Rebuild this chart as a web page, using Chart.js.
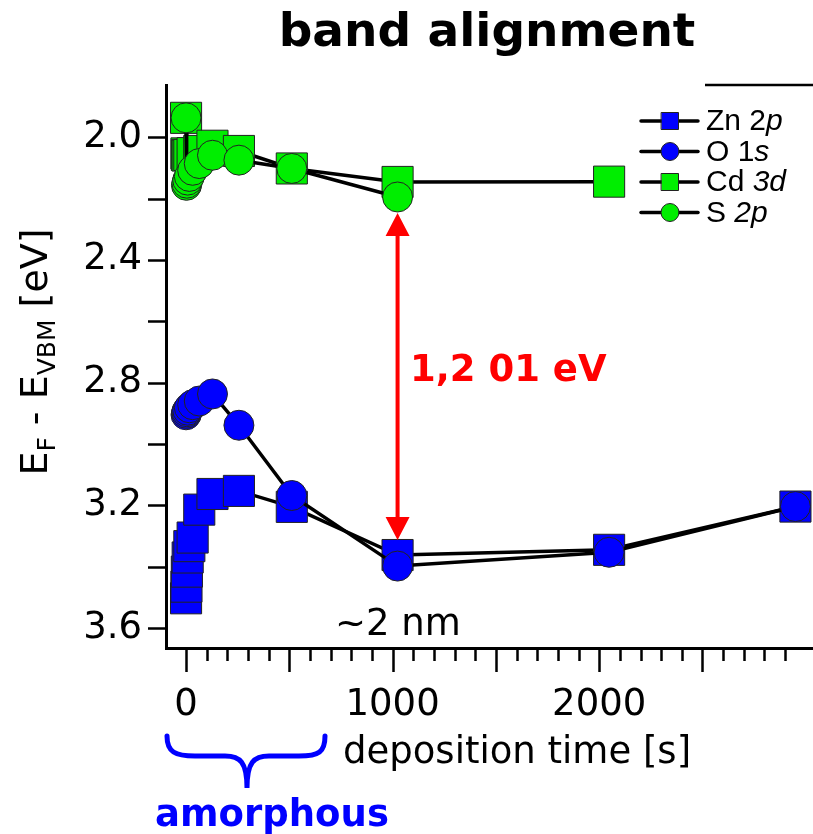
<!DOCTYPE html>
<html>
<head>
<meta charset="utf-8">
<script src="https://cdn.jsdelivr.net/npm/chart.js@4/dist/chart.umd.min.js"></script>
<style>
  html, body { margin: 0; padding: 0; background: #fff; overflow: hidden; }
  #wrap { width: 813px; height: 834px; }
  canvas { display: block; }
</style>
</head>
<body>
<div id="wrap"><canvas id="myChart" width="813" height="834"></canvas></div>
<script>
// deposition times [s]
const timesZnO = [0, 2, 4, 8, 16, 32, 64, 128, 256, 512, 1024, 2048, 2950];
const timesS = [0, 2, 4, 8, 16, 32, 64, 128, 256, 512, 1024];
const timesCd = [0, 2, 4, 8, 16, 32, 64, 128, 256, 512, 1024, 2048];

// E_F - E_VBM [eV]
const zn2p = [3.503, 3.465, 3.416, 3.370, 3.333, 3.305, 3.214, 3.163, 3.153, 3.205, 3.362, 3.345, 3.204];
const o1s = [2.905, 2.900, 2.895, 2.890, 2.882, 2.872, 2.860, 2.837, 2.939, 3.168, 3.398, 3.353, 3.204];
const cd3d = [1.937, 2.053, 2.058, 2.060, 2.058, 2.052, 2.045, 2.028, 2.045, 2.102, 2.146, 2.145];
const s2p = [1.937, 2.157, 2.150, 2.140, 2.128, 2.108, 2.086, 2.059, 2.075, 2.102, 2.195];

const xTickLabels = [0, 1000, 2000];
const yTickLabels = [2.0, 2.4, 2.8, 3.2, 3.6];
const yMinorTicks = [2.2, 2.6, 3.0, 3.4];

const gapTime = 1024;
const gapLabel = '1,2 01 eV';

const BLUE = '#0000ff';
const GREEN = '#00ee00';
const RED = '#ff0000';

const SANS = '"DejaVu Sans", Verdana, sans-serif';
const ARIAL = '"Liberation Sans", Arial, sans-serif';

const makeSeries = (label, times, values, color, style, order) => ({
  label,
  data: times.map((t, i) => ({ x: t, y: values[i] })),
  borderColor: '#000',
  borderWidth: 3.5,
  pointStyle: style,
  pointRadius: style === 'rect' ? 22 : 15,
  pointHoverRadius: style === 'rect' ? 22 : 15,
  pointBackgroundColor: color,
  pointBorderColor: '#222',
  pointBorderWidth: 1,
  order,
});

const legendItems = [
  { parts: [['Zn 2', false], ['p', true]], color: BLUE, style: 'rect' },
  { parts: [['O 1', false], ['s', true]], color: BLUE, style: 'circle' },
  { parts: [['Cd ', false], ['3d', true]], color: GREEN, style: 'rect' },
  { parts: [['S ', false], ['2p', true]], color: GREEN, style: 'circle' },
];

function drawMixed(ctx, parts, x, y, size, family) {
  let cx = x;
  for (const [txt, it] of parts) {
    ctx.font = (it ? 'italic ' : '') + size + 'px ' + family;
    ctx.fillText(txt, cx, y);
    cx += ctx.measureText(txt).width;
  }
}

// keep the plot area fixed: no extra room for tick label overhang
const noPadding = (s) => {
  s.paddingLeft = 0;
  s.paddingRight = 0;
  s.paddingTop = 0;
  s.paddingBottom = 0;
};

const decor = {
  id: 'decor',
  afterDraw(chart) {
    const ctx = chart.ctx;
    const xs = chart.scales.x;
    const ys = chart.scales.y;
    const area = chart.chartArea;
    ctx.save();
    ctx.strokeStyle = '#000';
    ctx.fillStyle = '#000';

    // tick marks
    ctx.lineWidth = 2.5;
    ctx.beginPath();
    for (const v of yTickLabels.concat(yMinorTicks)) {
      const py = Math.round(ys.getPixelForValue(v)) + 0.5;
      ctx.moveTo(area.left - 18, py);
      ctx.lineTo(area.left, py);
    }
    for (let t = 0; t <= 2900; t += 100) {
      const px = Math.round(xs.getPixelForValue(t)) + 0.5;
      const len = t % 500 === 0 ? 24 : 13;
      ctx.moveTo(px, area.bottom);
      ctx.lineTo(px, area.bottom + len);
    }
    ctx.stroke();

    // frame piece at top right
    ctx.beginPath();
    ctx.moveTo(705, area.top);
    ctx.lineTo(area.right, area.top);
    ctx.stroke();

    // title
    ctx.font = 'bold 47px ' + SANS;
    ctx.textAlign = 'center';
    ctx.textBaseline = 'alphabetic';
    ctx.fillText('band alignment', 487, 46);

    // y axis title
    ctx.save();
    ctx.translate(47, 352);
    ctx.rotate(-Math.PI / 2);
    const segs = [['E', 38, 0], ['F', 25, 8], [' - E', 38, 0], ['VBM', 25, 8], [' [eV]', 38, 0]];
    let total = 0;
    for (const [s, f] of segs) { ctx.font = f + 'px ' + SANS; total += ctx.measureText(s).width; }
    let cx = -total / 2;
    ctx.textAlign = 'left';
    for (const [s, f, dy] of segs) {
      ctx.font = f + 'px ' + SANS;
      ctx.fillText(s, cx, dy);
      cx += ctx.measureText(s).width;
    }
    ctx.restore();

    // x axis title and thickness note
    ctx.textAlign = 'left';
    ctx.font = '37px ' + SANS;
    ctx.fillText('deposition time [s]', 343, 763);
    ctx.fillText('~2 nm', 335, 635);

    // band gap arrow between S 2p and Zn 2p at 1024 s
    const ax = xs.getPixelForValue(gapTime);
    const yTop = ys.getPixelForValue(s2p[timesS.indexOf(gapTime)]) + 16;
    const yBot = ys.getPixelForValue(zn2p[timesZnO.indexOf(gapTime)]) - 15;
    ctx.strokeStyle = RED;
    ctx.fillStyle = RED;
    ctx.lineWidth = 4;
    ctx.beginPath();
    ctx.moveTo(ax, yTop + 20);
    ctx.lineTo(ax, yBot - 20);
    ctx.stroke();
    ctx.beginPath();
    ctx.moveTo(ax, yTop);
    ctx.lineTo(ax - 12, yTop + 23);
    ctx.lineTo(ax + 12, yTop + 23);
    ctx.closePath();
    ctx.moveTo(ax, yBot);
    ctx.lineTo(ax - 12, yBot - 23);
    ctx.lineTo(ax + 12, yBot - 23);
    ctx.closePath();
    ctx.fill();
    ctx.font = 'bold 37px ' + SANS;
    ctx.fillText(gapLabel, 410, 381);

    // brace under the early (amorphous) range
    ctx.strokeStyle = BLUE;
    ctx.fillStyle = BLUE;
    ctx.lineWidth = 5;
    ctx.lineCap = 'round';
    ctx.beginPath();
    ctx.moveTo(167, 736);
    ctx.bezierCurveTo(167, 752, 175, 756, 195, 756);
    ctx.lineTo(225, 756);
    ctx.bezierCurveTo(240, 756, 247, 762, 247, 788);
    ctx.bezierCurveTo(247, 762, 254, 756, 269, 756);
    ctx.lineTo(299, 756);
    ctx.bezierCurveTo(319, 756, 325, 752, 325, 736);
    ctx.stroke();
    ctx.font = 'bold 37px ' + SANS;
    ctx.textAlign = 'center';
    ctx.fillText('amorphous', 272, 826);

    // legend
    ctx.textAlign = 'left';
    ctx.textBaseline = 'middle';
    legendItems.forEach((it, i) => {
      const ly = 121 + i * 30.5;
      ctx.strokeStyle = '#000';
      ctx.lineWidth = 3.5;
      ctx.beginPath();
      ctx.moveTo(641, ly);
      ctx.lineTo(698, ly);
      ctx.stroke();
      ctx.fillStyle = it.color;
      ctx.strokeStyle = '#222';
      ctx.lineWidth = 1;
      ctx.beginPath();
      if (it.style === 'rect') ctx.rect(661.5, ly - 8.5, 17, 17);
      else ctx.arc(670, ly, 9, 0, Math.PI * 2);
      ctx.fill();
      ctx.stroke();
      ctx.fillStyle = '#000';
      drawMixed(ctx, it.parts, 706, ly + 1, 30, ARIAL);
    });

    ctx.restore();
  }
};

const ctx = document.getElementById('myChart');
new Chart(ctx, {
  type: 'line',
  data: {
    datasets: [
      makeSeries('Zn 2p', timesZnO, zn2p, BLUE, 'rect', 4),
      makeSeries('O 1s', timesZnO, o1s, BLUE, 'circle', 3),
      makeSeries('Cd 3d', timesCd, cd3d, GREEN, 'rect', 2),
      makeSeries('S 2p', timesS, s2p, GREEN, 'circle', 1),
    ],
  },
  options: {
    responsive: false,
    animation: false,
    layout: { autoPadding: false, padding: { top: 85, right: 0, bottom: 0, left: 0 } },
    plugins: { legend: { display: false }, tooltip: { enabled: false }, title: { display: false } },
    scales: {
      x: {
        type: 'linear',
        min: -97,
        max: 3035,
        afterFit: (s) => { s.height = 186; noPadding(s); },
        afterBuildTicks: (s) => { s.ticks = xTickLabels.map((v) => ({ value: v })); },
        grid: { display: false, drawTicks: false },
        border: { display: true, color: '#000', width: 3 },
        ticks: { color: '#000', padding: 35, maxRotation: 0, autoSkip: false,
                 font: { family: SANS, size: 37 }, callback: (v) => String(v) },
      },
      y: {
        type: 'linear',
        reverse: true,
        min: 1.83,
        max: 3.665,
        afterFit: (s) => { s.width = 166; noPadding(s); },
        afterBuildTicks: (s) => { s.ticks = yTickLabels.map((v) => ({ value: v })); },
        grid: { display: false, drawTicks: false },
        border: { display: true, color: '#000', width: 3 },
        ticks: { color: '#000', padding: 24, autoSkip: false,
                 font: { family: SANS, size: 37 }, callback: (v) => v.toFixed(1) },
      },
    },
  },
  plugins: [decor],
});
</script>
</body>
</html>
